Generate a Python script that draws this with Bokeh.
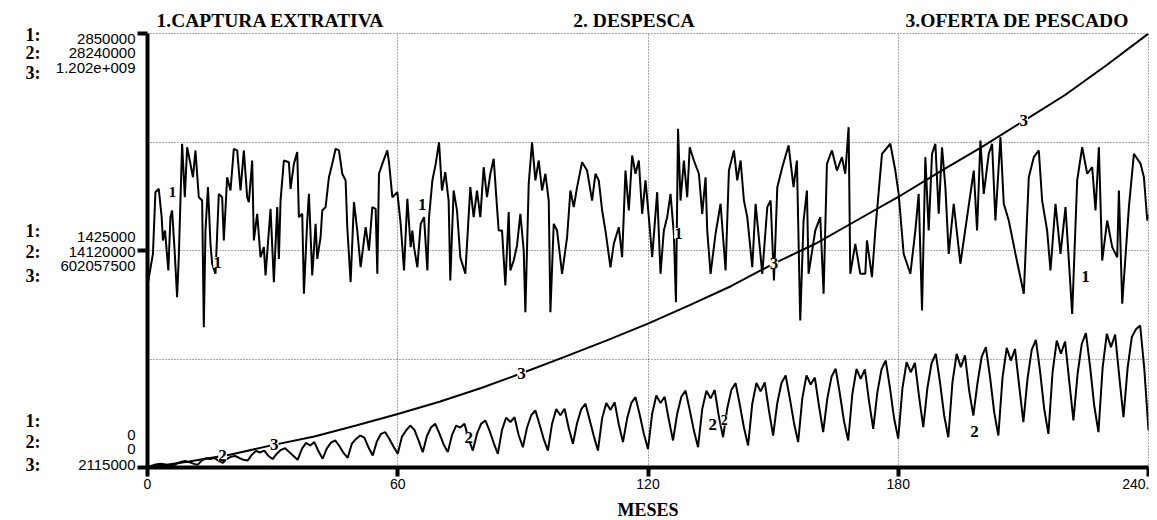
import numpy as np
from bokeh.plotting import figure
from bokeh.models import Range1d, FixedTicker, Label, LinearAxis
from bokeh.embed import file_html
from bokeh.resources import INLINE

# ---------------- DATA ----------------
titulos = ["1.CAPTURA EXTRATIVA", "2. DESPESCA", "3.OFERTA DE PESCADO"]

# 1. Captura extrativa (month, thousands)
meses_captura = [0, 1.3, 1.9, 2.7, 3.4, 3.7, 4.2, 5.0, 5.5, 5.9, 6.5, 7.1, 7.5, 8.3, 8.95, 9.5, 10.3, 10.9, 11.5,
                 12.3, 13.1, 13.5, 13.9, 14.5, 15.1, 15.5, 16.3, 17.1, 17.9, 18.3, 19.1, 19.9, 20.7, 21.5, 22.3,
                 23.1, 23.9, 24.3, 25.1, 25.5, 26.3, 27.1, 27.9, 28.3, 29.5, 30.3, 31.1, 31.5, 31.9, 32.7, 33.9,
                 34.3, 35.1, 35.9, 36.3, 37.1, 37.5, 38.3, 38.7, 39.5, 40.3, 40.7, 41.5, 41.9, 42.7, 43.5, 44.3,
                 45.1, 45.9, 46.7, 47.5, 47.9, 48.7, 49.5, 50.3, 51.1, 52.3, 53.1, 53.9, 54.7, 55.1, 55.5, 56.3,
                 57.5, 57.9, 58.7, 59.9, 60.7, 61.5, 62.3, 63.1, 63.5, 63.9, 64.7, 65.5, 66.3, 67.1, 67.5, 68.3,
                 69.1, 69.9, 70.6, 71.4, 72.2, 72.6, 73.4, 74.2, 75.0, 76.2, 77.4, 78.2, 79.0, 79.8, 80.6, 81.4,
                 82.2, 83.0, 83.8, 84.2, 85.0, 85.8, 86.6, 87.0, 87.8, 88.6, 89.4, 90.2, 90.6, 91.4, 92.2, 93.0,
                 93.8, 94.6, 95.4, 96.2, 96.6, 97.4, 98.2, 99.4, 100.6, 101.4, 102.2, 103.0, 104.2, 105.4, 106.6,
                 107.4, 108.2, 109.0, 109.8, 111.0, 111.8, 113.0, 113.8, 114.6, 115.4, 116.2, 117.0, 117.8, 118.6,
                 119.4, 120.2, 121.0, 122.2, 123.0, 123.8, 124.6, 125.4, 126.2, 126.7, 127.2, 127.8, 128.6, 129.4,
                 130.0, 131.0, 132.2, 133.0, 133.8, 134.2, 135.0, 136.2, 137.4, 138.6, 139.4, 140.6, 141.4, 142.2,
                 143.0, 143.8, 145.0, 145.8, 147.4, 148.6, 149.4, 150.2, 151.0, 152.2, 153.7, 154.9, 155.7, 156.5,
                 157.3, 158.1, 158.5, 160.1, 161.3, 162.1, 162.9, 164.1, 165.3, 166.5, 167.3, 168.1, 168.5, 169.7,
                 170.9, 172.1, 172.5, 173.7, 174.5, 176.1, 178.1, 179.3, 180.1, 181.3, 182.9, 184.1, 184.9, 185.7,
                 186.5, 187.3, 188.1, 188.9, 189.7, 190.5, 191.3, 192.1, 193.3, 194.9, 196.5, 198.1, 198.9, 199.7,
                 200.5, 201.7, 202.5, 203.3, 204.5, 205.3, 206.5, 208.1, 210.1, 211.3, 212.5, 213.7, 214.5, 215.7,
                 216.5, 217.7, 218.9, 220.1, 221.7, 222.9, 224.1, 225.3, 226.5, 227.3, 228.1, 228.9, 230.1, 231.3,
                 232.5, 232.9, 233.7, 235.3, 236.5, 238.1, 238.9, 239.7, 240]
captura_miles = [1195, 1403, 1808, 1830, 1644, 1491, 1556, 1294, 1644, 1688, 1425, 1118, 1381, 2126, 1775, 2103, 1994,
                 1906, 2082, 1775, 1753, 921, 1556, 1841, 1469, 1338, 1272, 1797, 1775, 1491, 1906, 1819, 2093,
                 2082, 1819, 2082, 1775, 1742, 2016, 1491, 1666, 1381, 1447, 1261, 1699, 1217, 1710, 1370, 1753,
                 2016, 2005, 1830, 1994, 2071, 1644, 1666, 1141, 1622, 1797, 1261, 1600, 1370, 1512, 1688, 1710,
                 1906, 1994, 2093, 2082, 1929, 1885, 1578, 1217, 1742, 1556, 1315, 1578, 1425, 1710, 1699, 1272,
                 1929, 1994, 2082, 2005, 1775, 1808, 1600, 1294, 1764, 1447, 1556, 1447, 1315, 1600, 1644, 1294,
                 1644, 1885, 1994, 2136, 1819, 1939, 1753, 1228, 1819, 1688, 1381, 1272, 1841, 1644, 1819, 1644,
                 1972, 1775, 1929, 2027, 1710, 1556, 1556, 1195, 1677, 1294, 1359, 1458, 1666, 1425, 1020, 1863,
                 2136, 1885, 2016, 1819, 1929, 1753, 1020, 1600, 1556, 1272, 1512, 1819, 1710, 1841, 2005, 1950,
                 1753, 1929, 1885, 1688, 1556, 1315, 1469, 1578, 1381, 1950, 1688, 2049, 1929, 2016, 1666, 1885,
                 1644, 1381, 1808, 1272, 1556, 1644, 1797, 1535, 1086, 2224, 1753, 2016, 1775, 2103, 2016, 1929,
                 1666, 1906, 1556, 1272, 1535, 1732, 1294, 1950, 2082, 1885, 2016, 1753, 1644, 1315, 1732, 1272,
                 1710, 1753, 1228, 1841, 1972, 2115, 1841, 2016, 965, 1622, 1819, 1272, 1556, 1644, 1141, 1994,
                 2082, 1950, 2038, 1929, 2235, 1272, 1469, 1272, 1272, 1491, 1250, 1556, 2060, 2126, 1950, 1797,
                 1403, 1272, 1556, 1797, 1031, 2038, 1556, 2060, 2126, 1666, 2103, 1841, 1403, 1732, 1338, 1644,
                 1950, 1556, 2147, 1797, 2060, 2126, 1622, 2169, 1732, 1622, 1403, 1141, 1906, 2038, 2082, 1753,
                 1556, 1294, 1732, 1403, 1710, 1009, 1885, 2103, 1929, 1972, 1688, 2103, 1359, 1622, 1447, 1381,
                 1819, 1075, 1710, 2060, 1994, 1906, 1622, 1660]

# 2. Despesca (monthly, millions)
meses_despesca = list(range(241))
despesca_mill = [0.00, 0.12, 0.20, 0.25, 0.22, 0.15,  0.10, 0.25, 0.36, 0.42, 0.35, 0.25,
                 0.17, 0.45, 0.60, 0.55, 0.62, 0.45,  0.30, 0.55, 0.70, 0.75, 0.62, 0.50,
                 0.45, 0.82, 1.08, 0.98, 1.10, 0.75,  0.55, 0.90, 1.15, 1.25, 1.00, 0.75,
                 0.50, 1.20, 1.60, 1.43, 1.65, 1.05,  0.57, 1.25, 1.62, 1.77, 1.40, 0.95,
                 0.63, 1.55, 1.86, 2.08, 1.95, 1.30,  0.78, 1.70, 2.19, 2.30, 1.85, 1.35,
                 0.89, 2.00, 2.41, 2.73, 2.45, 1.75,  1.00, 2.05, 2.62, 2.84, 2.20, 1.50,
                 1.00, 2.10, 2.73, 2.60, 2.84, 1.85,  1.10, 2.20, 2.85, 3.06, 2.40, 1.60,
                 0.89, 2.45, 3.25, 2.95, 3.27, 2.10,  1.32, 2.60, 3.40, 3.71, 2.80, 1.85,
                 1.10, 2.85, 3.80, 3.40, 3.82, 2.55,  1.54, 2.90, 3.80, 4.14, 3.10, 2.05,
                 1.10, 3.20, 4.20, 3.75, 4.25, 2.80,  1.65, 3.20, 4.20, 4.58, 3.45, 2.20,
                 1.20, 3.50, 4.68, 4.20, 4.60, 3.10,  1.76, 3.50, 4.60, 5.00, 3.75, 2.40,
                 1.32, 3.80, 5.00, 4.50, 5.04, 3.30,  1.97, 3.85, 5.05, 5.49, 4.10, 2.60,
                 1.43, 4.15, 5.50, 4.95, 5.53, 3.70,  2.08, 4.20, 5.50, 5.99, 4.50, 2.90,
                 1.65, 4.50, 5.99, 5.40, 5.85, 4.00,  2.30, 4.50, 5.90, 6.42, 4.80, 3.00,
                 1.76, 4.80, 6.41, 5.77, 6.38, 4.30,  2.52, 4.90, 6.40, 6.96, 5.20, 3.20,
                 1.87, 5.15, 6.85, 6.20, 6.80, 4.60,  2.62, 5.20, 6.80, 7.40, 5.55, 3.40,
                 1.97, 5.55, 7.40, 6.53, 7.30, 5.00,  3.38, 5.50, 7.20, 7.83, 5.90, 3.60,
                 2.08, 5.85, 7.78, 6.96, 7.70, 5.30,  2.95, 5.80, 7.65, 8.31, 6.25, 3.80,
                 2.19, 6.20, 8.26, 7.40, 8.20, 5.60,  3.06, 6.10, 8.05, 8.74, 6.55, 4.00,
                 2.30, 6.50, 8.70, 7.83, 8.65, 5.90,  3.27, 6.50, 8.50, 9.00, 9.24, 6.40,
                 2.41]

# 3. Oferta de pescado (every 10 months, millions)
meses_oferta = list(range(0, 241, 10))
oferta_mill = [2.115, 18.5, 38, 64, 88, 118, 150, 184, 222, 264, 308, 353, 400,
               451, 504, 565, 620, 685, 750, 820, 888, 960, 1032, 1115, 1202]

# scales of the three series and their printed limits
escala_1 = (0, 2850000)
escala_2 = (0, 28240000)
escala_3 = (2115000, 1202000000)
ticks_x = [0, 60, 120, 180, 240]
ticks_y = [0, 1425000, 2850000]
grid_y = [712500, 1425000, 2137500]
etiq_sup = ["2850000", "28240000", "1.202e+009"]
etiq_med = ["1425000", "14120000", "602057500"]
etiq_inf = ["0", "0", "2115000"]
numeros = ["1:", "2:", "3:"]

captura = [v * 1000 for v in captura_miles]
despesca = [v * 1e6 for v in despesca_mill]
oferta = [v * 1e6 for v in oferta_mill]

# ---------------- LAYOUT ----------------
W, H = 1149, 522
FL, FR, FT, FB = 147, 1148, 33, 467
SERIF = "Liberation Serif"
SANS = "Liberation Sans"

p = figure(width=W, height=H, x_range=Range1d(0, 240), y_range=Range1d(*escala_1),
           output_backend="svg", toolbar_location=None,
           min_border_left=FL, min_border_right=W - FR, min_border_top=FT, min_border_bottom=H - FB,
           background_fill_color="white", border_fill_color="white")
p.extra_y_ranges = {"s2": Range1d(*escala_2), "s3": Range1d(*escala_3)}


def val_y(py):
    """pixel row -> value on the primary (series 1) scale, used to place side texts"""
    return int(round((FB - py) / (FB - FT) * escala_1[1]))


def val_x(px):
    return (px - FL) / (FR - FL) * 240


# bottom axis
p.xaxis.ticker = FixedTicker(ticks=ticks_x)
p.xaxis.major_label_overrides = {240: "240."}
p.xaxis.axis_line_width = 4
p.xaxis.major_tick_line_width = 4
p.xaxis.major_tick_out = 9
p.xaxis.major_tick_in = 0
p.xaxis.minor_tick_line_color = None
p.xaxis.major_label_text_font = SANS
p.xaxis.major_label_text_font_size = "14px"
p.xaxis.major_label_text_color = "black"
p.xaxis.major_label_standoff = 2
p.xaxis.axis_label = "MESES"
p.xaxis.axis_label_text_font = SERIF
p.xaxis.axis_label_text_font_style = "bold"
p.xaxis.axis_label_text_font_size = "18px"
p.xaxis.axis_label_text_color = "black"
p.xaxis.axis_label_standoff = 8

# left axis: line + ticks only
p.yaxis.ticker = FixedTicker(ticks=ticks_y)
p.yaxis.major_label_overrides = {t: "" for t in ticks_y}
p.yaxis.major_label_standoff = 0
p.yaxis.axis_line_width = 4
p.yaxis.major_tick_line_width = 4
p.yaxis.major_tick_out = 10
p.yaxis.major_tick_in = 0
p.yaxis.minor_tick_line_color = None

# left axis: the three scales' numbers
pos_num = [38.5, 52, 67, 236.5, 251, 265.5, 434.5, 449, 465]
txt_num = etiq_sup + etiq_med + etiq_inf
t_num = [val_y(y) for y in pos_num]
ax_num = LinearAxis(ticker=FixedTicker(ticks=t_num),
                    major_label_overrides={t: s for t, s in zip(t_num, txt_num)},
                    axis_line_color=None, major_tick_line_color=None, minor_tick_line_color=None,
                    major_tick_out=0, major_tick_in=0, major_label_standoff=2,
                    major_label_text_font=SANS, major_label_text_font_size="15px",
                    major_label_text_color="black")
p.add_layout(ax_num, "left")

# left axis: "1:", "2:", "3:"
pos_n = [34, 52, 72.5, 231, 251.5, 275, 420.5, 441, 464]
t_n = [val_y(y) for y in pos_n]
ax_n = LinearAxis(ticker=FixedTicker(ticks=t_n),
                  major_label_overrides={t: s for t, s in zip(t_n, numeros * 3)},
                  axis_line_color=None, major_tick_line_color=None, minor_tick_line_color=None,
                  major_tick_out=0, major_tick_in=0, major_label_standoff=12,
                  major_label_text_font=SERIF, major_label_text_font_style="bold",
                  major_label_text_font_size="18px", major_label_text_color="black")
p.add_layout(ax_n, "left")

# top: series titles
t_tit = [val_x(270), val_x(633.5), val_x(1017)]
ax_tit = LinearAxis(ticker=FixedTicker(ticks=t_tit),
                    major_label_overrides={t: s for t, s in zip(t_tit, titulos)},
                    axis_line_color=None, major_tick_line_color=None, minor_tick_line_color=None,
                    major_tick_out=0, major_tick_in=0, major_label_standoff=3,
                    major_label_text_font=SERIF, major_label_text_font_style="bold",
                    major_label_text_font_size="19.5px", major_label_text_color="black")
p.add_layout(ax_tit, "above")

# grid & outline (dotted)
p.xgrid.ticker = FixedTicker(ticks=[60, 120, 180])
p.ygrid.ticker = FixedTicker(ticks=grid_y)
p.grid.grid_line_color = "#555555"
p.grid.grid_line_dash = "1 2"
p.grid.grid_line_width = 1
p.outline_line_color = "#555555"
p.outline_line_dash = "1 2"
p.outline_line_width = 1

# series
p.line(meses_oferta, oferta, y_range_name="s3", line_color="black", line_width=2)
p.line(meses_despesca, despesca, y_range_name="s2", line_color="black", line_width=2)
p.line(meses_captura, captura, line_color="black", line_width=2)


def etiqueta(txt, m, v, rango="default", size="17px"):
    p.add_layout(Label(x=m, y=v, y_range_name=rango, text=txt, text_font=SERIF, text_font_style="bold",
                       text_font_size=size, text_align="center", text_baseline="middle",
                       text_color="black", background_fill_color="white"))


# curve labels
for m, v, s in [(6.0, 1810000, "15px"), (16.8, 1346000, "17px"), (65.9, 1727000, "17px"),
                (127.3, 1537000, "17px"), (224.9, 1254000, "17px")]:
    etiqueta("1", m, v, "default", s)
for m, v, s in [(18, 780000, "17px"), (77, 1950000, "17px"), (135.5, 2800000, "17px"),
                (138.3, 3060000, "14px"), (198.3, 2340000, "17px")]:
    etiqueta("2", m, v, "s2", s)
for m in [30.4, 89.7, 150.2, 210.1]:
    etiqueta("3", m, float(np.interp(m, meses_oferta, oferta)), "s3")

open("out.html", "w").write(file_html(p, INLINE))
